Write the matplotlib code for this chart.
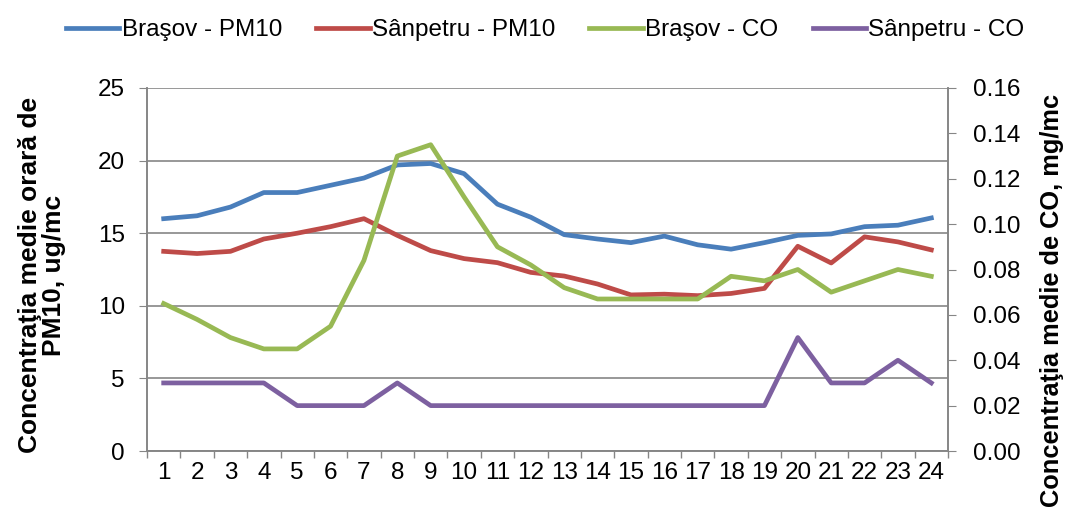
import matplotlib
matplotlib.use('Agg')
from matplotlib import pyplot as plt
from matplotlib.ticker import FormatStrFormatter
import numpy as np

plt.rcParams['font.family'] = ['Liberation Sans', 'DejaVu Sans']

hours = list(range(1, 25))
# PM10, ug/mc (left axis)
brasov_pm10 = [16.0, 16.2, 16.8, 17.8, 17.8, 18.3, 18.8, 19.7, 19.8, 19.1, 17.0, 16.1,
               14.9, 14.6, 14.35, 14.8, 14.2, 13.9, 14.35, 14.85, 14.95, 15.45, 15.55, 16.05]
sanpetru_pm10 = [13.75, 13.6, 13.75, 14.6, 15.0, 15.45, 16.0, 14.85, 13.8, 13.25, 12.97, 12.3,
                 12.05, 11.5, 10.75, 10.8, 10.7, 10.85, 11.2, 14.1, 12.95, 14.75, 14.4, 13.85]
# CO, mg/mc (right axis)
brasov_co = [0.065, 0.058, 0.050, 0.045, 0.045, 0.055, 0.084, 0.130, 0.135, 0.112, 0.090, 0.082,
             0.072, 0.067, 0.067, 0.067, 0.067, 0.077, 0.075, 0.080, 0.070, 0.075, 0.080, 0.077]
sanpetru_co = [0.030, 0.030, 0.030, 0.030, 0.020, 0.020, 0.020, 0.030, 0.020, 0.020, 0.020, 0.020,
               0.020, 0.020, 0.020, 0.020, 0.020, 0.020, 0.020, 0.050, 0.030, 0.030, 0.040, 0.030]

c_blue = '#4A7EBB'
c_red = '#BE4B48'
c_green = '#98B954'
c_purple = '#7D60A0'
gray = '#868686'
fs = 17.5
lw = 3.4

fig = plt.figure(figsize=(10.69, 5.16), dpi=100)
ax = fig.add_axes([147/1069, 1-451/516, (948-147)/1069, (451-88)/516])
ax2 = ax.twinx()

l1, = ax.plot(hours, brasov_pm10, c=c_blue, lw=lw, label='Braşov - PM10')
l2, = ax.plot(hours, sanpetru_pm10, c=c_red, lw=lw, label='Sânpetru - PM10')
l3, = ax2.plot(hours, brasov_co, c=c_green, lw=lw, label='Braşov - CO')
l4, = ax2.plot(hours, sanpetru_co, c=c_purple, lw=lw, label='Sânpetru - CO')

ax.set_xlim(0.5, 24.5)
ax.set_ylim(0, 25)
ax.set_yticks(np.arange(0, 26, 5))
ax2.set_ylim(0, 0.16)
ax2.set_yticks(np.arange(0, 0.161, 0.02))
ax2.yaxis.set_major_formatter(FormatStrFormatter('%.2f'))

ax.set_xticks(hours)
ax.set_xticks(np.arange(0.5, 25, 1), minor=True)
ax.tick_params(axis='x', which='major', length=0, pad=8, labelsize=fs)
ax.tick_params(axis='x', which='minor', length=5, color=gray, width=1)
ax.tick_params(axis='y', length=6, color=gray, pad=10, labelsize=fs)
ax2.tick_params(axis='y', length=6, color=gray, pad=12, labelsize=fs)

ax.yaxis.grid(True, color=gray, lw=1.2)
ax.set_axisbelow(True)
for a in (ax, ax2):
    a.spines['top'].set_visible(False)
    for s in ('left', 'right', 'bottom'):
        a.spines[s].set_color(gray)
        a.spines[s].set_linewidth(1.2)

fig.text(42/1069, 0.5*(1-455/516) + 0.5*(1-95/516),
         'Concentraţia medie orară de\nPM10, ug/mc',
         rotation=90, ha='center', va='center', fontsize=fs+1.5, fontweight='bold',
         linespacing=1.0)
fig.text(1052/1069, 1-300/516, 'Concentraţia medie de CO, mg/mc',
         rotation=90, ha='center', va='center', fontsize=fs+0.8, fontweight='bold')

fig.legend(handles=[l1, l2, l3, l4], loc='upper center', bbox_to_anchor=(0.51, 1.005),
           ncol=4, frameon=False, fontsize=fs, handlelength=2.2, handletextpad=0.1,
           columnspacing=1.4)

fig.savefig('out.png', dpi=100)
